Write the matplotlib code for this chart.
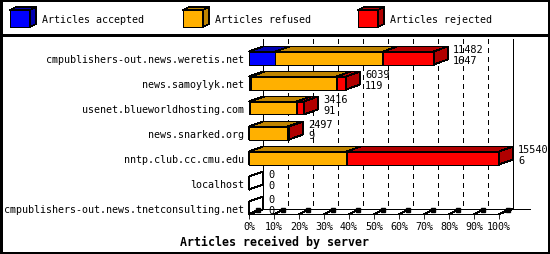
import numpy as np
import matplotlib
matplotlib.use("Agg")
import matplotlib.pyplot as plt
from matplotlib.patches import Polygon, Rectangle

# data
servers = [
    "cmpublishers-out.news.weretis.net",
    "news.samoylyk.net",
    "usenet.blueworldhosting.com",
    "news.snarked.org",
    "nntp.club.cc.cmu.edu",
    "localhost",
    "cmpublishers-out.news.tnetconsulting.net",
]
total = [11482, 6039, 3416, 2497, 15540, 0, 0]
accepted = [1647, 119, 91, 9, 6, 0, 0]
refused = [6690, 5330, 2870, 2400, 6070, 0, 0]
rejected = [3145, 590, 455, 88, 9464, 0, 0]
series_names = ["Articles accepted", "Articles refused", "Articles rejected"]
xtick_vals = list(range(0, 101, 10))

front_cols = ["#0000ff", "#ffb000", "#ff0000"]
dark_cols = ["#0000b0", "#bf8400", "#b00000"]

plt.rcParams["font.family"] = "DejaVu Sans Mono"
W, H = 550, 255
fig = plt.figure(figsize=(W / 100, H / 100), dpi=100)


def frac(x0, y0, x1, y1):
    # pixel box (top-left origin) -> figure fraction rect
    return [x0 / W, 1 - y1 / H, (x1 - x0) / W, (y1 - y0) / H]


ax = fig.add_axes(frac(249, 40, 499, 215))
ax.set_xlim(0, 100)
ax.set_ylim(6.24, -0.76)
PXX = 100 / 250  # data units per pixel
PXY = 1 / 25
DX, DY = 14 * PXX, 5 * PXY
HB = 6.5 * PXY
top_wall, floor_back, floor_front = -0.76, 6.04, 6.24
lw = 0.6

# back wall and grid
for xx in [DX, 100 + DX]:
    ax.plot([xx, xx], [top_wall, floor_back], color="black", lw=lw, zorder=1,
            clip_on=False, antialiased=False)
for t in xtick_vals[1:-1]:
    ax.plot([t + DX, t + DX], [top_wall, floor_back], color="black", lw=lw,
            ls=(0, (6, 5)), zorder=1, clip_on=False, antialiased=False)
ax.plot([DX, 100 + DX + 17 * PXX], [floor_back, floor_back], color="black", lw=lw,
        zorder=1, clip_on=False, antialiased=False)
ax.plot([100, 100 + DX], [floor_front, floor_back], color="black", lw=lw,
        zorder=1, clip_on=False, antialiased=False)

# little 3d tick stubs on the floor
for t in xtick_vals:
    ax.plot([t, t + 7 * PXX], [floor_front, floor_front - 3 * PXY], color="black",
            lw=lw, zorder=1.5, clip_on=False, antialiased=False)
    ax.plot([t + 9 * PXX], [floor_back + 1.5 * PXY], "s", color="black", ms=2.2,
            zorder=1.5, clip_on=False)

vmax = max(total)
z = 3
for i in range(len(servers)):
    left = 0.0
    vals = [accepted[i], refused[i], rejected[i]]
    for k, v in enumerate(vals):
        w = v / vmax * 100
        yt, yb = i - HB, i + HB
        fc = front_cols[k] if w > 0 else "none"
        dc = dark_cols[k] if w > 0 else "none"
        kw = dict(edgecolor="black", lw=lw, clip_on=False, antialiased=False, zorder=z)
        ax.add_patch(Rectangle((left, yt), w, 2 * HB, facecolor=fc, **kw))
        ax.add_patch(Polygon([(left, yt), (left + w, yt), (left + w + DX, yt - DY),
                              (left + DX, yt - DY)], closed=True, facecolor=dc, **kw))
        ax.add_patch(Polygon([(left + w, yt), (left + w + DX, yt - DY),
                              (left + w + DX, yb - DY), (left + w, yb)], closed=True,
                             facecolor=dc, **kw))
        left += w
        z += 1
    xend = total[i] / vmax * 100 + DX + 5 * PXX
    ax.text(xend, i - 9 * PXY, str(total[i]), fontsize=7.4, va="center",
            ha="left", clip_on=False, zorder=50)
    ax.text(xend, i + 2 * PXY, str(accepted[i]), fontsize=7.4, va="center",
            ha="left", clip_on=False, zorder=50)

for s in ["left", "right", "top"]:
    ax.spines[s].set_visible(False)
ax.spines["bottom"].set_linewidth(lw)
ax.spines["bottom"].set_antialiased(False)
ax.set_facecolor("none")
ax.set_xticks(xtick_vals)
ax.set_xticklabels([f"{t}%" for t in xtick_vals])
ax.set_yticks(range(len(servers)))
ax.set_yticklabels(servers)
ax.tick_params(axis="x", length=3.8, width=lw, pad=1.5, labelsize=7.2)
ax.tick_params(axis="y", length=0, pad=3.8, labelsize=7.2)

fig.text(0.5, 1 - 242 / H, "Articles received by server", fontsize=8.4,
         fontweight="bold", ha="center", va="center")

# legend and frame drawn in pixel space
ov = fig.add_axes([0, 0, 1, 1])
ov.set_xlim(0, W)
ov.set_ylim(H, 0)
ov.axis("off")
ov.add_patch(Rectangle((0.5, 0.5), W - 1.5, H - 1.5, fill=False, edgecolor="black",
                       lw=lw * 1.6, antialiased=False))
ov.plot([0, W], [35.5, 35.5], color="black", lw=lw * 1.6, antialiased=False)
for k, x0 in enumerate([10, 183, 358]):
    kw = dict(edgecolor="black", lw=lw, antialiased=False)
    ov.add_patch(Rectangle((x0, 11), 20, 17, facecolor=front_cols[k], **kw))
    ov.add_patch(Polygon([(x0, 11), (x0 + 20, 11), (x0 + 26, 8), (x0 + 6, 8)],
                         closed=True, facecolor=dark_cols[k], **kw))
    ov.add_patch(Polygon([(x0 + 20, 11), (x0 + 26, 8), (x0 + 26, 25), (x0 + 20, 28)],
                         closed=True, facecolor=dark_cols[k], **kw))
    ov.text(x0 + 32, 20, series_names[k], fontsize=7.2, va="center", ha="left")

fig.savefig("out.png", dpi=100)
